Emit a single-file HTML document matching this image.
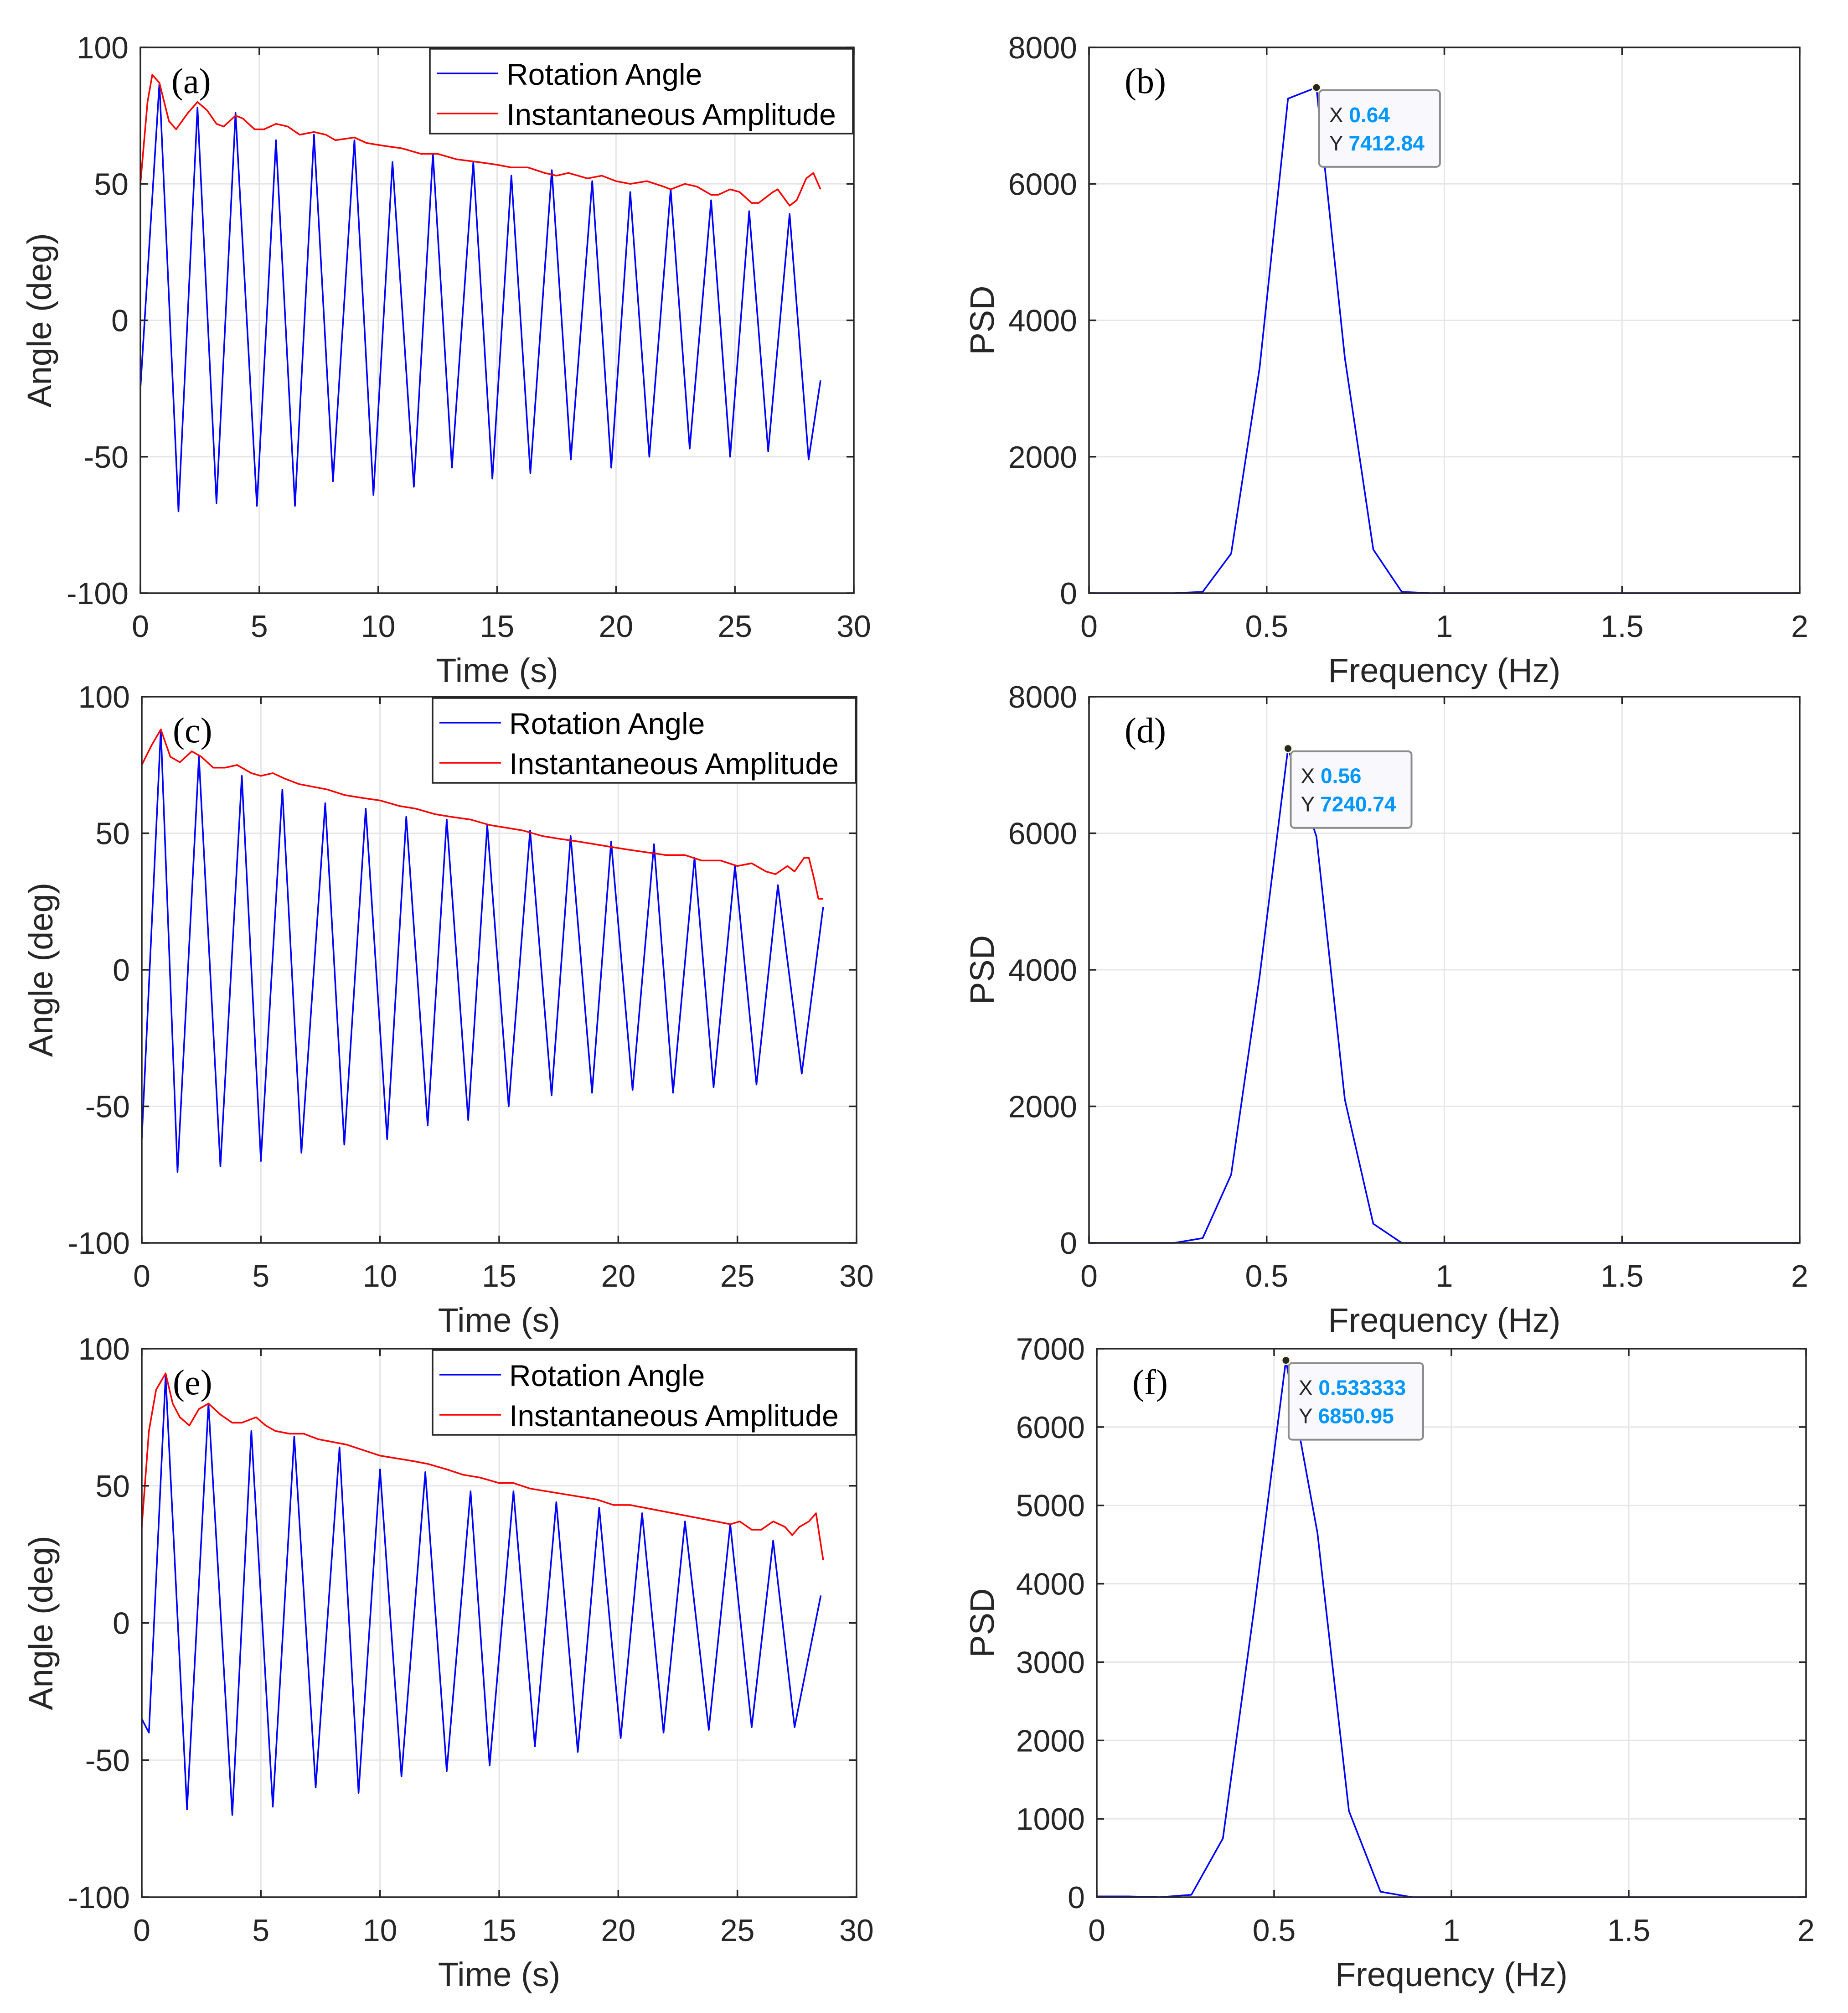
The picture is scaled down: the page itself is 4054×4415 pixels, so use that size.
<!DOCTYPE html>
<html><head><meta charset="utf-8"><style>
html,body{margin:0;padding:0;background:#fff;}
svg{display:block;}
</style></head><body>
<svg id="fig" xmlns="http://www.w3.org/2000/svg" width="4054" height="4415" viewBox="0 0 4054 4415"></svg>
<script>
// ---- data ----
const aAngleT=[0,0.8,1.6,2.4,3.2,4.0,4.9,5.7,6.5,7.3,8.1,9.0,9.8,10.6,11.5,12.3,13.1,14.0,14.8,15.6,16.4,17.3,18.1,19.0,19.8,20.6,21.4,22.3,23.1,24.0,24.8,25.6,26.4,27.3,28.1,28.6];
const aAngleV=[-25,87,-70,78,-67,76,-68,66,-68,68,-59,66,-64,58,-61,61,-54,58,-58,53,-56,55,-51,51,-54,47,-50,48,-47,44,-50,40,-48,39,-51,-22];
const aAmpT=[0,0.3,0.5,0.8,1.0,1.2,1.5,2.0,2.4,2.8,3.2,3.5,4.0,4.3,4.8,5.2,5.7,6.2,6.7,7.3,7.8,8.2,9.0,9.5,10.2,11.0,11.8,12.5,13.3,14.2,15.0,15.6,16.3,17.0,17.5,18.0,18.8,19.4,20.0,20.6,21.3,22.0,22.3,22.9,23.4,24.0,24.3,24.8,25.2,25.7,26.0,26.6,26.8,27.3,27.6,28.0,28.3,28.6];
const aAmpV=[50,80,90,87,80,73,70,76,80,77,72,71,75,74,70,70,72,71,68,69,68,66,67,65,64,63,61,61,59,58,57,56,56,54,53,54,52,53,51,50,51,49,48,50,49,46,46,48,47,43,43,47,48,42,44,52,54,48];
const cAngleT=[0,0.8,1.5,2.4,3.3,4.2,5.0,5.9,6.7,7.7,8.5,9.4,10.3,11.1,12.0,12.8,13.7,14.5,15.4,16.3,17.2,18.0,18.9,19.7,20.6,21.5,22.3,23.2,24.0,24.9,25.8,26.7,27.7,28.6];
const cAngleV=[-62,88,-74,78,-72,71,-70,66,-67,61,-64,59,-62,56,-57,55,-55,53,-50,51,-46,49,-45,47,-44,46,-45,41,-43,38,-42,31,-38,23];
const cAmpT=[0,0.4,0.8,1.2,1.6,2.1,2.5,3.0,3.5,4.0,4.6,5.0,5.5,6.0,6.6,7.2,7.8,8.5,9.2,10.0,10.8,11.5,12.3,13.0,13.8,14.6,15.3,16.0,16.8,17.5,18.3,19.0,19.7,20.4,21.2,22.0,22.8,23.5,24.3,25.0,25.6,26.2,26.6,27.1,27.4,27.8,28.0,28.2,28.4,28.6];
const cAmpV=[75,82,88,78,76,80,78,74,74,75,72,71,72,70,68,67,66,64,63,62,60,59,57,56,55,53,52,51,49,48,47,46,45,44,43,42,42,40,40,38,39,36,35,38,36,41,41,34,26,26];
const eAngleT=[0,0.3,1.0,1.9,2.8,3.8,4.6,5.5,6.4,7.3,8.3,9.1,10.0,10.9,11.9,12.8,13.8,14.6,15.6,16.5,17.4,18.3,19.2,20.1,21.0,21.9,22.8,23.8,24.7,25.6,26.5,27.4,28.5];
const eAngleV=[-35,-40,90,-68,80,-70,70,-67,68,-60,64,-62,56,-56,55,-54,48,-52,48,-45,44,-47,42,-42,40,-40,37,-39,36,-38,30,-38,10];
const eAmpT=[0,0.3,0.6,1.0,1.3,1.6,2.0,2.4,2.8,3.3,3.8,4.2,4.8,5.2,5.6,6.2,6.8,7.4,8.0,8.6,9.3,10.0,10.7,11.4,12.0,12.8,13.5,14.2,15.0,15.6,16.3,17.0,17.7,18.4,19.1,19.8,20.5,21.1,21.7,22.3,22.9,23.5,24.1,24.7,25.1,25.6,26.0,26.5,27.0,27.3,27.6,28.0,28.3,28.6];
const eAmpV=[35,70,85,91,80,75,72,78,80,76,73,73,75,72,70,69,69,67,66,65,63,61,60,59,58,56,54,53,51,51,49,48,47,46,45,43,43,42,41,40,39,38,37,36,37,34,34,37,35,32,35,37,40,23];
const bFreq=[0,0.08,0.16,0.24,0.32,0.40,0.48,0.56,0.64,0.72,0.80,0.88,0.96,1.2,1.5,1.8,2.0];
const bPsd=[0,0,0,0,20,580,3300,7250,7412.84,3450,640,20,0,0,0,0,0];
const dFreq=[0,0.08,0.16,0.24,0.32,0.40,0.48,0.56,0.64,0.72,0.80,0.88,0.96,1.2,1.5,1.8,2.0];
const dPsd=[0,0,0,0,70,1000,3900,7240.74,5950,2100,280,0,0,0,0,0,0];
const fFreq=[0,0.0889,0.1778,0.2667,0.3556,0.4444,0.5333,0.6222,0.7111,0.8,0.8889,0.9778,1.2,1.5,1.8,2.0];
const fPsd=[10,10,0,30,750,3700,6850.95,4650,1100,70,0,0,0,0,0,0];
const timeTicks=[0,5,10,15,20,25,30];
const angleTicks=[-100,-50,0,50,100];
const freqTicks=[0,0.5,1,1.5,2];
const freqTickLabels=['0','0.5','1','1.5','2'];
const psdTicks8=[0,2000,4000,6000,8000];
const psdTicks7=[0,1000,2000,3000,4000,5000,6000,7000];

const NS='http://www.w3.org/2000/svg';
const svg=document.getElementById('fig');
function mk(tag,attrs,parent){const e=document.createElementNS(NS,tag);for(const k in attrs)e.setAttribute(k,attrs[k]);(parent||svg).appendChild(e);return e;}
const FONT='"Liberation Sans", Arial, sans-serif';

function panel(p){
  const g=mk('g',{});
  
  
  const X=v=>p.L+(v-p.xmin)/(p.xmax-p.xmin)*(p.R-p.L);
  const Y=v=>p.B-(v-p.ymin)/(p.ymax-p.ymin)*(p.B-p.T);
  p.xt.forEach(v=>{const l=mk('line',{x1:X(v),x2:X(v),y1:p.T,y2:p.B,stroke:'#e6e6e6','stroke-width':3},g);});
  p.yt.forEach(v=>{const l=mk('line',{x1:p.L,x2:p.R,y1:Y(v),y2:Y(v),stroke:'#e6e6e6','stroke-width':3},g);});
  p.series.forEach(s=>{
    const pts=s.x.map((v,i)=>X(v).toFixed(1)+','+Y(s.y[i]).toFixed(1)).join(' ');
    const pl=mk('polyline',{points:pts,fill:'none',stroke:s.color,'stroke-width':3.5,'stroke-linejoin':'round'},g);
    
    
  });
  const box=mk('rect',{x:p.L,y:p.T,width:p.R-p.L,height:p.B-p.T,fill:'none',stroke:'#262626','stroke-width':3.5},g);
  
  
  p.xt.forEach((v,i)=>{
    mk('line',{x1:X(v),x2:X(v),y1:p.B,y2:p.B-16,stroke:'#262626','stroke-width':3.5},g);
    mk('line',{x1:X(v),x2:X(v),y1:p.T,y2:p.T+16,stroke:'#262626','stroke-width':3.5},g);
    const t=mk('text',{x:X(v),y:p.B+96,'text-anchor':'middle','font-family':FONT,'font-size':68,fill:'#262626'},g);
    t.textContent=p.xl?p.xl[i]:String(v);
    
    
  });
  p.yt.forEach(v=>{
    mk('line',{x1:p.L,x2:p.L+16,y1:Y(v),y2:Y(v),stroke:'#262626','stroke-width':3.5},g);
    mk('line',{x1:p.R,x2:p.R-16,y1:Y(v),y2:Y(v),stroke:'#262626','stroke-width':3.5},g);
    const t=mk('text',{x:p.L-26,y:Y(v)+24,'text-anchor':'end','font-family':FONT,'font-size':68,fill:'#262626'},g);
    t.textContent=String(v);
    
    
  });
  const xt=mk('text',{x:(p.L+p.R)/2,y:p.B+195,'text-anchor':'middle','font-family':FONT,'font-size':74,fill:'#262626'},g);
  xt.textContent=p.xlabel;
  
  
  const yt=mk('text',{x:0,y:0,'text-anchor':'middle','font-family':FONT,'font-size':74,fill:'#262626',transform:`translate(${p.ylx},${(p.T+p.B)/2}) rotate(-90)`},g);
  yt.textContent=p.ylabel;
  
  
  const pt=mk('text',{x:p.L+p.tagdx,y:p.T+100,'font-family':'"Liberation Serif", serif','font-size':78,fill:'#000'},g);
  pt.textContent=p.tag;
  
  
  if(p.legend){
    const lg=mk('g',{},g);
    
    
    const lx=p.R-930, ly=p.T+3, lw=928, lh=186;
    mk('rect',{x:lx,y:ly,width:lw,height:lh,fill:'#fff',stroke:'#262626','stroke-width':3.5},lg);
    [['Rotation Angle','#0000ff',56],['Instantaneous Amplitude','#ff0000',144]].forEach(e=>{
      const en=mk('g',{},lg);
      
      
      mk('line',{x1:lx+15,x2:lx+150,y1:ly+e[2]-2,y2:ly+e[2]-2,stroke:e[1],'stroke-width':3.5},en);
      const t=mk('text',{x:lx+168,y:ly+e[2]+23,'font-family':FONT,'font-size':66,fill:'#000'},en);
      t.textContent=e[0];
    });
  }
  if(p.tip){
    const tg=mk('g',{},g);
    
    
    const mx=X(p.tip[0]), my=Y(p.tip[1]);
    mk('rect',{x:mx+6,y:my+6,width:p.tipw,height:168,rx:8,fill:'#f9f9fd',stroke:'#8c8c8c','stroke-width':4},tg);
    mk('circle',{cx:mx,cy:my,r:9,fill:'#262626',stroke:'#fffbd0','stroke-width':3},tg);
    const t1=mk('text',{x:mx+28,y:my+76,'font-family':FONT,'font-size':46,fill:'#262626'},tg);
    t1.textContent='X ';
    const s1=mk('tspan',{fill:'#0096ff','font-weight':'bold'},t1);s1.textContent=p.tipx;
    const t2=mk('text',{x:mx+28,y:my+138,'font-family':FONT,'font-size':46,fill:'#262626'},tg);
    t2.textContent='Y ';
    const s2=mk('tspan',{fill:'#0096ff','font-weight':'bold'},t2);s2.textContent=p.tipy;
  }
}
const timeCommon={xmin:0,xmax:30,ymin:-100,ymax:100,xt:timeTicks,yt:angleTicks,xlabel:'Time (s)',ylabel:'Angle (deg)',legend:true,tagdx:68};
panel(Object.assign({name:'panel-a',L:308,R:1873,T:104,B:1301,ylx:112,tag:'(a)',series:[{x:aAngleT,y:aAngleV,color:'#0000ff',name:'rotation-angle-line'},{x:aAmpT,y:aAmpV,color:'#ff0000',name:'instantaneous-amplitude-line'}]},timeCommon));
panel(Object.assign({name:'panel-c',L:311,R:1879,T:1528,B:2726,ylx:115,tag:'(c)',series:[{x:cAngleT,y:cAngleV,color:'#0000ff',name:'rotation-angle-line'},{x:cAmpT,y:cAmpV,color:'#ff0000',name:'instantaneous-amplitude-line'}]},timeCommon));
panel(Object.assign({name:'panel-e',L:311,R:1879,T:2958,B:4161,ylx:115,tag:'(e)',series:[{x:eAngleT,y:eAngleV,color:'#0000ff',name:'rotation-angle-line'},{x:eAmpT,y:eAmpV,color:'#ff0000',name:'instantaneous-amplitude-line'}]},timeCommon));
const fc={xmin:0,xmax:2,ymin:0,xt:freqTicks,xl:freqTickLabels,xlabel:'Frequency (Hz)',ylabel:'PSD',legend:false,tagdx:78};
panel(Object.assign({name:'panel-b',L:2389,R:3948,T:104,B:1301,ymax:8000,yt:psdTicks8,ylx:2180,tag:'(b)',series:[{x:bFreq,y:bPsd,color:'#0000ff',name:'psd-line'}],tip:[0.64,7412.84],tipx:'0.64',tipy:'7412.84',tipw:265},fc));
panel(Object.assign({name:'panel-d',L:2389,R:3948,T:1528,B:2726,ymax:8000,yt:psdTicks8,ylx:2180,tag:'(d)',series:[{x:dFreq,y:dPsd,color:'#0000ff',name:'psd-line'}],tip:[0.56,7240.74],tipx:'0.56',tipy:'7240.74',tipw:265},fc));
panel(Object.assign({name:'panel-f',L:2406,R:3962,T:2958,B:4161,ymax:7000,yt:psdTicks7,ylx:2180,tag:'(f)',series:[{x:fFreq,y:fPsd,color:'#0000ff',name:'psd-line'}],tip:[0.533333,6850.95],tipx:'0.533333',tipy:'6850.95',tipw:295},fc));
</script>
</body></html>
